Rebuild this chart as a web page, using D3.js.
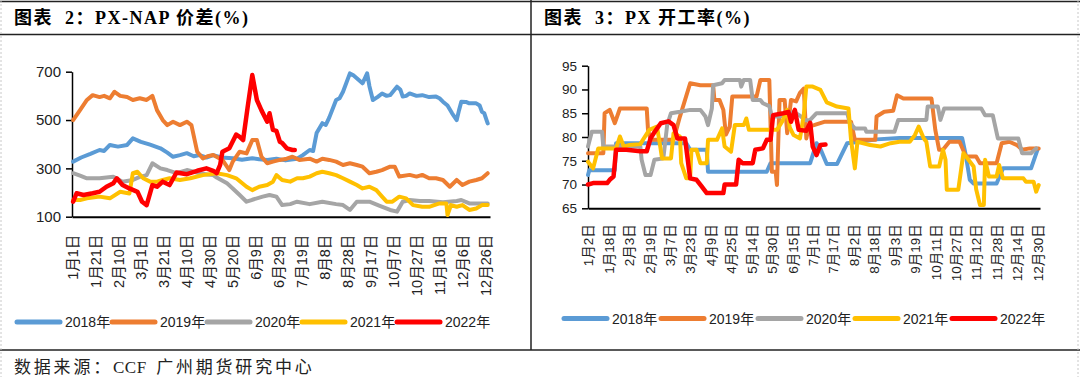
<!DOCTYPE html>
<html>
<head>
<meta charset="utf-8">
<script src="https://cdn.jsdelivr.net/npm/d3@7"></script>
<style>
  body { margin: 0; background: #fff; }
  svg { display: block; }
</style>
</head>
<body>
<div id="chart"></div>
<script>
// ---- data ----
const years = ["2018年", "2019年", "2020年", "2021年", "2022年"];

// PX-NAP spread, [day of year, value]
const spread2018 = [[1,328],[8,345],[16,360],[24,376],[28,372],[33,397],[40,390],[48,397],[53,424],[60,410],[68,398],[77,383],[83,365],[88,348],[94,355],[100,363],[106,350],[111,355],[117,345],[123,355],[130,345],[140,342],[148,336],[157,342],[163,338],[170,335],[178,340],[186,333],[196,340],[201,355],[207,376],[210,372],[213,446],[218,487],[221,480],[224,510],[230,583],[233,590],[236,617],[242,693],[245,685],[248,673],[253,652],[257,693],[259,640],[262,583],[266,595],[270,610],[274,600],[277,603],[283,638],[286,625],[288,597],[291,600],[294,610],[300,600],[305,603],[311,595],[317,597],[320,590],[323,576],[327,560],[331,528],[335,500],[337,540],[339,576],[343,575],[346,569],[352,569],[355,560],[357,534],[359,528],[361,500],[362,486]];
const spread2019 = [[1,500],[7,541],[13,583],[18,603],[24,595],[28,600],[33,590],[37,617],[42,600],[48,595],[53,583],[59,590],[65,583],[70,600],[74,541],[79,500],[83,479],[88,493],[94,479],[100,493],[104,479],[109,369],[114,341],[118,350],[123,355],[131,335],[137,293],[140,328],[146,369],[152,362],[157,417],[161,417],[165,348],[170,321],[175,328],[181,335],[187,340],[192,348],[198,335],[207,340],[213,328],[218,340],[224,335],[230,328],[236,314],[242,321],[248,314],[253,307],[259,280],[265,286],[270,293],[277,307],[281,307],[285,266],[294,273],[300,266],[305,273],[311,259],[317,259],[323,252],[329,224],[335,252],[340,231],[346,245],[352,252],[357,259],[362,280]];
const spread2020 = [[1,280],[7,270],[13,259],[24,259],[30,262],[36,265],[44,245],[53,252],[59,265],[65,272],[70,321],[77,300],[83,293],[91,280],[100,293],[111,280],[118,275],[123,272],[126,262],[135,238],[140,217],[146,190],[152,162],[157,170],[166,183],[172,190],[178,183],[183,148],[190,152],[196,162],[207,152],[218,162],[230,152],[236,148],[242,128],[248,162],[253,162],[259,162],[268,145],[277,128],[283,121],[288,162],[294,169],[303,165],[311,165],[323,160],[335,165],[339,169],[346,155],[355,155],[362,155]];
const spread2021 = [[1,169],[7,169],[13,176],[24,183],[33,176],[42,203],[50,196],[53,280],[57,286],[62,259],[68,245],[74,245],[79,252],[85,259],[94,252],[103,259],[114,272],[126,280],[135,272],[143,259],[152,224],[157,210],[163,224],[170,231],[175,245],[178,272],[183,252],[190,245],[196,259],[201,259],[207,266],[213,280],[218,286],[224,280],[230,272],[236,259],[242,245],[248,231],[253,217],[259,224],[265,210],[270,183],[274,162],[279,162],[285,183],[291,176],[297,148],[305,141],[311,141],[320,155],[326,155],[327,107],[330,148],[335,141],[340,148],[346,128],[352,134],[357,148],[362,148]];
const spread2022 = [[1,162],[4,197],[10,190],[18,197],[24,203],[30,224],[36,238],[39,259],[44,231],[50,217],[57,203],[61,162],[65,148],[70,231],[74,224],[79,245],[85,231],[91,283],[100,276],[109,290],[117,300],[123,290],[126,280],[129,314],[131,369],[137,383],[143,440],[146,430],[149,417],[153,555],[157,686],[161,583],[165,540],[170,493],[172,528],[175,459],[178,455],[181,410],[183,405],[187,383],[192,376],[194,376]];

const spreadTicks = [100, 300, 500, 700];
const spreadLabels = ["1月1日","1月21日","2月10日","3月1日","3月21日","4月10日","4月30日","5月20日","6月9日","6月29日","7月19日","8月8日","8月28日","9月17日","10月7日","10月27日","11月16日","12月6日","12月26日"];

// PX operating rate, [trading day index, value]
const rate2018 = [[0,72],[1,73],[21,73],[22,78.7],[77,78.7],[80,77.3],[93,77.3],[94,72.7],[140,72.7],[143,74.5],[174,74.5],[179,78.7],[182,77.5],[187,74.3],[195,74.3],[203,78.7],[213,79],[226,79.5],[244,79.8],[293,79.8],[296,76],[299,71],[302,70.2],[320,70.2],[325,73.4],[347,73.4],[352,77.3]];
const rate2019 = [[0,76.6],[12,76.6],[13,85],[17,85.7],[21,82.9],[25,86],[46,86],[47,81.5],[49,79.4],[67,79.4],[72,84.3],[80,91.3],[88,90.9],[98,90.9],[99,87.8],[103,87.8],[106,85.7],[108,80.5],[111,82.2],[113,88.5],[132,88.5],[135,92],[142,92],[144,72.7],[147,72.7],[148,69.9],[150,87.8],[154,87.8],[156,80.8],[159,87.8],[163,87.5],[166,89.3],[169,90.2],[170,85],[171,79.7],[173,82.2],[177,82.5],[185,83.2],[206,83.2],[209,79.4],[225,79.4],[226,84.3],[232,85.3],[239,85.5],[242,88.8],[247,88.1],[269,88.1],[272,81.5],[275,77.3],[278,77.3],[283,79],[291,79],[296,75.9],[304,75.9],[307,74.5],[320,74.5],[324,78.7],[330,79],[336,78.3],[340,77.3],[346,77.6],[353,77.6]];
const rate2020 = [[0,78],[3,81.1],[11,81.1],[12,78],[41,78],[42,75.2],[45,72],[49,72],[52,75.2],[59,75.5],[62,82.5],[65,85],[72,85.3],[80,85.7],[88,85.7],[92,84.3],[94,82.5],[97,86],[98,90.9],[105,91.3],[107,92],[119,92],[120,90.6],[122,92],[127,92],[129,87.8],[135,87.8],[137,87.1],[142,86.5],[144,84.3],[150,84.3],[156,84.6],[161,85.3],[166,84.5],[170,83.5],[174,83.6],[179,85],[203,85],[205,83],[209,81.8],[217,81.8],[218,81.1],[240,81.1],[243,83.6],[265,83.6],[266,86.4],[274,86.4],[276,83.6],[279,86],[308,86],[311,84.6],[317,84.6],[321,79.7],[337,79.7],[340,76.6],[347,76.6],[351,77.6]];
const rate2021 = [[0,74.8],[4,73.4],[8,77.6],[22,77.6],[25,80.1],[28,78],[32,78.3],[41,78.5],[43,79.4],[48,81.5],[54,82.2],[56,79],[58,75.5],[65,75.5],[67,80.8],[72,80.1],[73,74.5],[77,71.3],[80,71.3],[81,77.3],[85,77.3],[88,74.5],[93,74.5],[94,79.4],[101,79.4],[105,81.8],[107,78],[112,76.9],[115,82.5],[122,82.5],[124,83.9],[126,81.5],[148,81.5],[152,83.2],[156,85.7],[158,82],[161,80.4],[166,79.7],[169,84.6],[171,90.6],[176,90.6],[182,89.9],[187,87.3],[195,86.4],[204,86],[206,79.4],[209,73.4],[211,79],[221,78.3],[229,78],[237,78.7],[244,79],[252,79],[256,80.4],[259,82.2],[263,79.7],[265,79],[268,73.8],[275,73.8],[278,77.3],[280,75.2],[281,68.9],[290,68.9],[294,76.6],[298,75.2],[302,73.8],[304,69],[307,65.7],[310,65.7],[311,75.2],[314,71.7],[320,71.7],[322,74.1],[325,71.3],[341,71.3],[343,70.6],[349,70.6],[351,68.5],[353,69.9]];
const rate2022 = [[0,70],[4,70.3],[15,70.3],[17,71],[20,71.7],[22,77.3],[30,77.3],[41,77],[46,77],[49,79.7],[52,81],[57,82.9],[63,83.3],[67,82.5],[70,79.7],[76,79.7],[80,71.3],[85,71],[89,69.6],[93,68.2],[106,68.2],[107,70],[116,70],[118,75.2],[121,74.5],[129,74.5],[131,77.3],[137,77.6],[140,79.4],[143,79.4],[145,84.6],[153,85],[157,85.3],[159,83.2],[162,85.7],[165,81.5],[171,81.3],[174,83],[176,78],[179,76.2],[182,78.3],[186,78.4]];

const rateTicks = [65, 70, 75, 80, 85, 90, 95];
const rateLabels = ["1月2日","1月18日","2月3日","2月19日","3月7日","3月23日","4月9日","4月25日","5月14日","5月30日","6月15日","7月1日","7月17日","8月2日","8月18日","9月3日","9月19日","10月11日","10月27日","11月12日","11月28日","12月14日","12月30日"];

const colors = ["#5B9BD5", "#ED7D31", "#A5A5A5", "#FFC000", "#FF0000"];
const sans = "'Liberation Sans', Arial, 'Noto Sans CJK SC', sans-serif";
const serif = "'Liberation Serif', 'Times New Roman', 'Noto Sans CJK SC', serif";

const W = 1080, H = 377;
const svg = d3.select("#chart").append("svg")
    .attr("width", W)
    .attr("height", H);

// frame lines
const frame = svg.append("g").attr("stroke", "#222").attr("stroke-width", 1.5);
frame.append("line").attr("x1", 0).attr("x2", W).attr("y1", 1.5).attr("y2", 1.5);
frame.append("line").attr("x1", 0).attr("x2", W).attr("y1", 34.5).attr("y2", 34.5);
frame.append("line").attr("x1", 0).attr("x2", W).attr("y1", 350).attr("y2", 350);
frame.append("line").attr("x1", 531).attr("x2", 531).attr("y1", 0).attr("y2", 350);
svg.append("g").attr("stroke", "#c8c8c8").attr("stroke-dasharray", "2,2")
    .selectAll("line").data([1, 1078]).enter().append("line")
    .attr("x1", d => d).attr("x2", d => d).attr("y1", 0).attr("y2", H);

// titles
svg.append("text")
    .attr("x", 14).attr("y", 24)
    .style("font-family", serif).style("font-size", "18px").style("font-weight", "bold")
    .style("letter-spacing", "1.5px").attr("xml:space", "preserve")
    .text("图表  2：PX-NAP 价差(%)");
svg.append("text")
    .attr("x", 544).attr("y", 24)
    .style("font-family", serif).style("font-size", "18px").style("font-weight", "bold")
    .style("letter-spacing", "1.5px").attr("xml:space", "preserve")
    .text("图表  3：PX 开工率(%)");

// source
const src = svg.append("text")
    .attr("x", 14).attr("y", 373)
    .style("font-family", serif).style("font-size", "17px")
    .attr("fill", "#222").attr("xml:space", "preserve");
src.append("tspan").style("letter-spacing", "2.8px").text("数据来源：");
src.append("tspan").style("letter-spacing", "0.5px").text("CCF  ");
src.append("tspan").style("letter-spacing", "2.8px").text("广州期货研究中心");

function drawPanel(p) {
    const x = d3.scaleLinear().domain(p.xDomain).range([p.left, p.right]);
    const y = d3.scaleLinear().domain(p.yDomain).range([p.bottom, p.top]);
    const g = svg.append("g");

    // Y axis
    const ya = g.append("g")
        .attr("transform", `translate(${p.left},0)`)
        .call(d3.axisLeft(y).tickValues(p.yTicks).tickSize(6).tickSizeOuter(0).tickPadding(5));
    ya.select(".domain").attr("stroke", "#000").attr("stroke-width", 1.5);
    ya.selectAll(".tick line").attr("stroke", "#000").attr("stroke-width", 1.5);
    ya.selectAll("text")
        .style("font-family", sans).style("font-size", p.yFont + "px").attr("fill", "#222");

    // X axis, rotated category labels
    const xa = g.append("g")
        .attr("transform", `translate(0,${p.bottom})`)
        .call(d3.axisBottom(x)
            .tickValues(p.xLabels.map((d, i) => i * p.xStep))
            .tickFormat((d, i) => p.xLabels[i])
            .tickSize(0).tickSizeOuter(0));
    xa.select(".domain").attr("stroke", "#000").attr("stroke-width", 2);
    xa.selectAll("text")
        .attr("transform", "rotate(-90)")
        .attr("x", -p.xGap).attr("y", 0).attr("dy", "0.35em")
        .style("text-anchor", "end")
        .style("font-family", sans).style("font-size", p.xFont + "px").attr("fill", "#222");

    // series
    const line = d3.line().x(d => x(d[0])).y(d => y(d[1]));
    p.series.forEach((s, i) => {
        g.append("path")
            .datum(s)
            .attr("d", line)
            .attr("fill", "none")
            .attr("stroke", colors[i])
            .attr("stroke-width", i === 4 ? 4.5 : 4)
            .attr("stroke-linejoin", "round")
            .attr("stroke-linecap", "round");
    });

    // legend
    const lg = g.append("g").selectAll("g")
        .data(years).enter().append("g")
        .attr("transform", (d, i) => `translate(${p.legendX + i * p.legendStep},${p.legendY})`);
    lg.append("line")
        .attr("x1", 0).attr("x2", 43)
        .attr("stroke", (d, i) => colors[i])
        .attr("stroke-width", 5)
        .attr("stroke-linecap", "round");
    lg.append("text")
        .attr("x", 48).attr("dy", "0.36em")
        .style("font-family", sans).style("font-size", "14px").attr("fill", "#222")
        .text(d => d);
}

drawPanel({
    left: 72, right: 490, top: 71.7, bottom: 216.7,
    xDomain: [0, 364], yDomain: [100, 700], yTicks: spreadTicks,
    xLabels: spreadLabels, xStep: 20, xGap: 18, xFont: 14.5, yFont: 15,
    series: [spread2018, spread2019, spread2020, spread2021, spread2022],
    legendX: 17, legendStep: 95, legendY: 322
});

drawPanel({
    left: 588, right: 1040, top: 65.7, bottom: 208.3,
    xDomain: [0, 354], yDomain: [65, 95], yTicks: rateTicks,
    xLabels: rateLabels, xStep: 16, xGap: 16, xFont: 13.5, yFont: 13.5,
    series: [rate2018, rate2019, rate2020, rate2021, rate2022],
    legendX: 564, legendStep: 97, legendY: 318.5
});
</script>
</body>
</html>
